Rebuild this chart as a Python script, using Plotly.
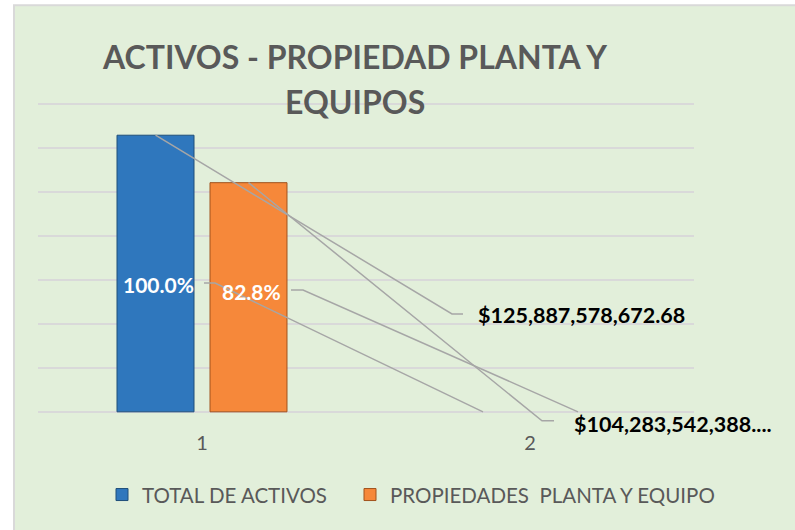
import plotly.graph_objects as go

# ---------------- data ----------------
categories = [1, 2]
category_labels = ["1", "2"]
series_names = ["TOTAL DE ACTIVOS", "PROPIEDADES  PLANTA Y EQUIPO"]
total_activos = [125887578672.68, None]
propiedades_planta_equipo = [104283542388.00, None]
value_labels = ["$125,887,578,672.68", "$104,283,542,388...."]
title_lines = ["ACTIVOS - PROPIEDAD PLANTA Y", "EQUIPOS"]

# ---------------- layout constants ----------------
W, H = 795, 530
PL, PR = 38, 694            # plot area left/right (px)
Y0PX, PXPERB = 412, 2.2     # px of y=0 and px per 1e9
YMIN, YMAX = -6e9, 141e9
PT = Y0PX - YMAX / 1e9 * PXPERB
PB = Y0PX - YMIN / 1e9 * PXPERB
FONT = "Lato, 'Open Sans', sans-serif"
GRAY = "#595959"
BG = "#E2EFDA"
BLUE, ORANGE = "#2F77BD", "#F6883A"
LEADER = "#A6A6A6"

BARGAP, GROUPGAP = 0.433, 0.172
slot = (1 - BARGAP) / 2


def xd(px):
    return 0.5 + (px - PL) / (PR - PL) * 2.0


def yd(py):
    return (Y0PX - py) / PXPERB * 1e9


def xp(px):
    return (px - PL) / (PR - PL)


def yp(py):
    return (PB - py) / (PB - PT)


fig = go.Figure()
fig.add_trace(go.Bar(x=categories, y=total_activos, name=series_names[0], legend="legend",
                     marker=dict(color=BLUE, line=dict(color="#1F4E79", width=1))))
fig.add_trace(go.Bar(x=categories, y=propiedades_planta_equipo, name=series_names[1], legend="legend2",
                     marker=dict(color=ORANGE, line=dict(color="#A0521C", width=1))))

# bar centres for category 1
xb_blue = categories[0] - slot / 2
xb_orange = categories[0] + slot / 2

shapes = []
# chart frame
shapes.append(dict(type="rect", xref="paper", yref="paper", x0=xp(14), y0=yp(5), x1=xp(820), y1=yp(560),
                   fillcolor=BG, line=dict(color="#D9D9D9", width=2), layer="below"))


def leader(points):
    d = "M " + " L ".join(f"{x},{y}" for x, y in points)
    return dict(type="path", xref="x", yref="y", path=d, line=dict(color=LEADER, width=1.5), layer="above")


shapes.append(leader([(xb_blue, total_activos[0]), (xd(452), yd(314)), (xd(463), yd(314))]))
shapes.append(leader([(xb_orange, propiedades_planta_equipo[0]), (xd(542), yd(421)), (xd(554), yd(421))]))
shapes.append(leader([(xd(204), yd(283)), (xd(215), yd(283)), (xd(483), 0)]))
shapes.append(leader([(xd(291), yd(290)), (xd(303), yd(290)), (xd(578), 0)]))

pct_total = total_activos[0] / total_activos[0] * 100
pct_ppe = propiedades_planta_equipo[0] / total_activos[0] * 100

annotations = [
    dict(x=xp(354), y=yp(56), xref="paper", yref="paper", text=title_lines[0], showarrow=False,
         font=dict(family=FONT, size=32, color=GRAY, weight="bold"), xanchor="center", yanchor="middle"),
    dict(x=xp(355), y=yp(101), xref="paper", yref="paper", text=title_lines[1], showarrow=False,
         font=dict(family=FONT, size=32, color=GRAY, weight="bold"), xanchor="center", yanchor="middle"),
    dict(x=xb_blue + 0.01, y=yd(285), xref="x", yref="y", text=f"{pct_total:.1f}%", showarrow=False,
         font=dict(family=FONT, size=21, color="white", weight="bold"), xanchor="center", yanchor="middle"),
    dict(x=xb_orange + 0.01, y=yd(292), xref="x", yref="y", text=f"{pct_ppe:.1f}%", showarrow=False,
         font=dict(family=FONT, size=21, color="white", weight="bold"), xanchor="center", yanchor="middle"),
    dict(x=xd(476), y=yd(315), xref="x", yref="y", text=value_labels[0], showarrow=False,
         font=dict(family=FONT, size=21.5, color="black", weight="bold"), xanchor="left", yanchor="middle"),
    dict(x=xd(572), y=yd(424), xref="x", yref="y", text=value_labels[1], showarrow=False,
         font=dict(family=FONT, size=21.5, color="black", weight="bold"), xanchor="left", yanchor="middle"),
]

legend_common = dict(orientation="h", xanchor="left", y=yp(495), yanchor="middle",
                     font=dict(family=FONT, size=20.5, color=GRAY), bgcolor="rgba(0,0,0,0)",
                     borderwidth=0, tracegroupgap=0)

fig.update_layout(
    width=W, height=H,
    margin=dict(l=PL, r=W - PR, t=PT, b=H - PB, pad=0, autoexpand=False),
    paper_bgcolor="white", plot_bgcolor="rgba(0,0,0,0)",
    barmode="group", bargap=BARGAP, bargroupgap=GROUPGAP,
    showlegend=True,
    legend=dict(x=xp(102), **legend_common),
    legend2=dict(x=xp(350), **legend_common),
    shapes=shapes, annotations=annotations,
    xaxis=dict(range=[0.5, 2.5], tickvals=categories, ticktext=category_labels, showgrid=False,
               zeroline=False, showline=False, ticks="", ticklabelstandoff=4,
               tickfont=dict(family=FONT, size=20, color=GRAY)),
    yaxis=dict(range=[YMIN, YMAX], tick0=0, dtick=20e9, showgrid=True, gridcolor="#D9D9D9", gridwidth=1.5,
               zeroline=False, showticklabels=False, ticks=""),
)

fig.write_html("out.html", config={"displayModeBar": False},
               post_script="document.body.style.margin='0';")
